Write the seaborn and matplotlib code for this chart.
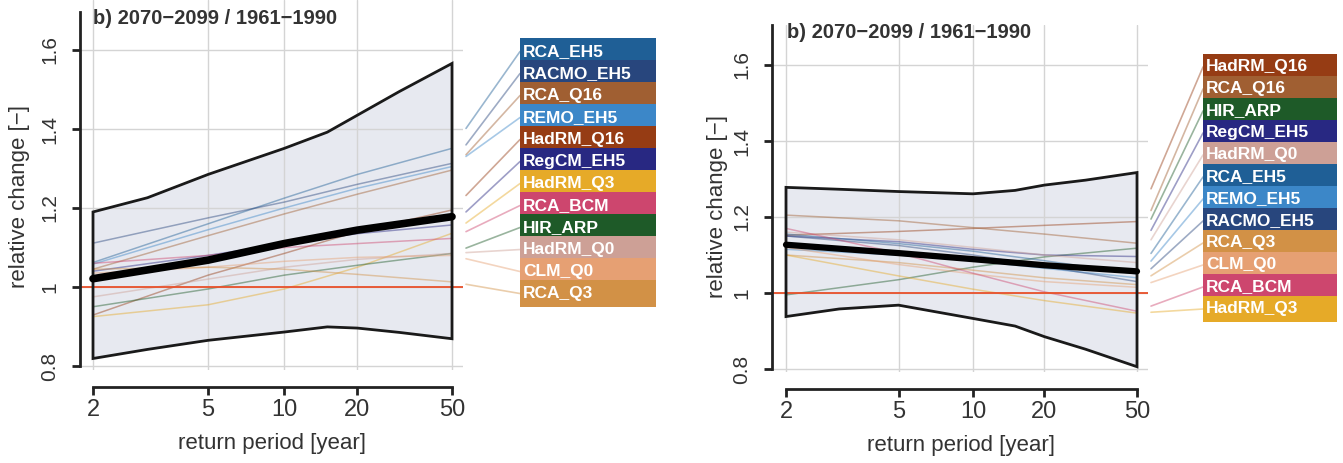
import numpy as np
import pandas as pd
import matplotlib
matplotlib.use("Agg")
import matplotlib.pyplot as plt
import seaborn as sns
from matplotlib.lines import Line2D
from matplotlib.patches import Rectangle

# return periods
T_lines = [2, 5, 10, 20, 50]
T_env = [2, 3, 5, 10, 15, 20, 30, 50]

x_ticks = [2, 5, 10, 20, 50]
y_ticks = [0.8, 1.0, 1.2, 1.4, 1.6]
y_ticklabels = ["0.8", "1", "1.2", "1.4", "1.6"]

model_colors = {
    "RCA_EH5": "#1f5f96",
    "RACMO_EH5": "#28467d",
    "RCA_Q16": "#a05f32",
    "REMO_EH5": "#3c87c8",
    "HadRM_Q16": "#963c14",
    "RegCM_EH5": "#282882",
    "HadRM_Q3": "#e6aa28",
    "RCA_BCM": "#cd466e",
    "HIR_ARP": "#1e5a28",
    "HadRM_Q0": "#cda096",
    "CLM_Q0": "#e6a073",
    "RCA_Q3": "#d29146",
}

# linker Teil
left_title = "b) 2070\u22122099 / 1961\u22121990"
left_upper = [1.190, 1.226, 1.285, 1.351, 1.392, 1.435, 1.495, 1.566]
left_lower = [0.819, 0.842, 0.865, 0.886, 0.899, 0.896, 0.885, 0.869]
left_mean = [1.021, 1.068, 1.110, 1.144, 1.178]
left_values = {
    "RCA_EH5": [1.062, 1.160, 1.225, 1.285, 1.351],
    "RACMO_EH5": [1.111, 1.175, 1.215, 1.260, 1.313],
    "RCA_Q16": [1.045, 1.130, 1.185, 1.235, 1.296],
    "REMO_EH5": [1.058, 1.145, 1.200, 1.250, 1.305],
    "HadRM_Q16": [0.929, 1.030, 1.085, 1.140, 1.195],
    "RegCM_EH5": [1.040, 1.080, 1.110, 1.135, 1.157],
    "HadRM_Q3": [0.925, 0.955, 0.995, 1.050, 1.136],
    "RCA_BCM": [1.060, 1.080, 1.100, 1.110, 1.123],
    "HIR_ARP": [0.950, 0.995, 1.030, 1.055, 1.085],
    "HadRM_Q0": [0.975, 1.020, 1.050, 1.070, 1.085],
    "CLM_Q0": [1.035, 1.050, 1.065, 1.075, 1.080],
    "RCA_Q3": [1.045, 1.050, 1.045, 1.032, 1.013],
}
left_order = ["RCA_EH5", "RACMO_EH5", "RCA_Q16", "REMO_EH5", "HadRM_Q16", "RegCM_EH5",
              "HadRM_Q3", "RCA_BCM", "HIR_ARP", "HadRM_Q0", "CLM_Q0", "RCA_Q3"]

# rechter Teil
right_title = "b) 2070\u22122099 / 1961\u22121990"
right_upper = [1.278, 1.273, 1.267, 1.261, 1.270, 1.284, 1.297, 1.317]
right_lower = [0.938, 0.958, 0.968, 0.933, 0.913, 0.885, 0.852, 0.806]
right_mean = [1.127, 1.105, 1.089, 1.073, 1.057]
right_values = {
    "HadRM_Q16": [1.152, 1.162, 1.170, 1.178, 1.188],
    "RCA_Q16": [1.205, 1.190, 1.172, 1.155, 1.131],
    "HIR_ARP": [0.995, 1.035, 1.068, 1.095, 1.118],
    "RegCM_EH5": [1.150, 1.135, 1.115, 1.100, 1.096],
    "HadRM_Q0": [1.160, 1.140, 1.120, 1.100, 1.080],
    "RCA_EH5": [1.155, 1.130, 1.110, 1.085, 1.050],
    "REMO_EH5": [1.115, 1.100, 1.085, 1.065, 1.040],
    "RACMO_EH5": [1.150, 1.125, 1.100, 1.070, 1.030],
    "RCA_Q3": [1.100, 1.080, 1.060, 1.040, 1.022],
    "CLM_Q0": [1.120, 1.075, 1.050, 1.030, 1.015],
    "RCA_BCM": [1.170, 1.105, 1.052, 1.003, 0.952],
    "HadRM_Q3": [1.100, 1.045, 1.010, 0.980, 0.947],
}
right_order = ["HadRM_Q16", "RCA_Q16", "HIR_ARP", "RegCM_EH5", "HadRM_Q0", "RCA_EH5",
               "REMO_EH5", "RACMO_EH5", "RCA_Q3", "CLM_Q0", "RCA_BCM", "HadRM_Q3"]

W, H = 1343, 463


# Gumbel-Skala fuer die Jaehrlichkeit
def gumbel(T):
    T = np.asarray(T, dtype=float)
    with np.errstate(all="ignore"):
        return -np.log(-np.log(1 - 1 / T))


def gumbel_inv(g):
    g = np.asarray(g, dtype=float)
    with np.errstate(all="ignore"):
        return 1 / (1 - np.exp(-np.exp(-g)))


sns.set_style("white")
plt.rcParams["font.family"] = ["Liberation Sans", "DejaVu Sans"]
text_col = "#333333"

fig = plt.figure(figsize=(W / 100, H / 100), dpi=100)


def panel(box, glim, ylim, spine_top, upper, lower, mean, values, order, title, title_xy,
          xlabel_xy, ylabel_xy, lab_x0, lab_w, lab_top, lab_h, lab_step, mean_lw):
    x0, y0, x1, y1 = box  # pixel coords, y from top
    ax = fig.add_axes([x0 / W, 1 - y1 / H, (x1 - x0) / W, (y1 - y0) / H])
    ax.set_xscale("function", functions=(gumbel, gumbel_inv))
    ax.set_xlim(float(gumbel_inv(glim[0])), float(gumbel_inv(glim[1])))
    ax.set_ylim(*ylim)
    ax.set_facecolor("none")

    # Band
    ax.fill_between(T_env, lower, upper, color="#e7e9f0", lw=0, zorder=1)
    ax.fill(np.r_[T_env, T_env[::-1]], np.r_[upper, lower[::-1]], facecolor="none",
            edgecolor="#1a1a1a", lw=2, zorder=3)

    # Modelle
    df = pd.DataFrame([(m, t, v) for m in order for t, v in zip(T_lines, values[m])],
                      columns=["model", "T", "value"])
    sns.lineplot(data=df, x="T", y="value", hue="model", palette=model_colors,
                 legend=False, lw=1.1, alpha=0.45, ax=ax, zorder=2, estimator=None)
    sns.lineplot(x=T_lines, y=mean, color="black", lw=mean_lw, ax=ax, zorder=4,
                 estimator=None)
    ax.axhline(1.0, color="#e8502a", lw=1.3, zorder=2.5)

    ax.set_xticks(x_ticks)
    ax.set_xticklabels([str(t) for t in x_ticks])
    ax.set_yticks(y_ticks)
    ax.set_yticklabels(y_ticklabels, rotation=90, va="center")
    ax.minorticks_off()
    ax.grid(True, color="#d4d4d4", lw=1)
    ax.set_axisbelow("line")
    ax.set_xlabel("")
    ax.set_ylabel("")

    for s in ["top", "right"]:
        ax.spines[s].set_visible(False)
    ax.spines["left"].set_bounds(0.8, spine_top)
    ax.spines["bottom"].set_bounds(2, 50)
    ax.spines["bottom"].set_position(("outward", 12))
    for s in ["left", "bottom"]:
        ax.spines[s].set_color("#222222")
        ax.spines[s].set_linewidth(2)
    ax.tick_params(axis="x", bottom=True, direction="out", length=6, width=2,
                   color="#222222", labelsize=17, pad=3, labelcolor=text_col)
    ax.tick_params(axis="y", left=True, direction="out", length=6, width=2,
                   color="#222222", labelsize=15, pad=9, labelcolor=text_col)

    fig.text(title_xy[0] / W, 1 - title_xy[1] / H, title, fontsize=14.5, fontweight="bold",
             color=text_col, ha="left", va="center")
    fig.text(xlabel_xy[0] / W, 1 - xlabel_xy[1] / H, "return period [year]", fontsize=16,
             color=text_col, ha="center", va="center")
    fig.text(ylabel_xy[0] / W, 1 - ylabel_xy[1] / H, "relative change [\u2212]",
             fontsize=16, color=text_col, ha="center", va="center", rotation=90)

    # Beschriftung mit Verbindungslinien
    for i, name in enumerate(order):
        ex, ey = ax.transData.transform((T_lines[-1], values[name][-1]))
        cy = lab_top + i * lab_step + lab_h / 2
        bx, by = lab_x0, H - cy
        sx = ex + 14
        sy = ey + (by - ey) * 14 / (bx - ex)
        fig.add_artist(Line2D([sx / W, bx / W], [sy / H, by / H], transform=fig.transFigure,
                              color=model_colors[name], alpha=0.45, lw=1.2))
        fig.add_artist(Rectangle((bx / W, (by - lab_h / 2) / H), lab_w / W, lab_h / H,
                                 transform=fig.transFigure, facecolor=model_colors[name],
                                 edgecolor="none"))
        fig.text((bx + 3) / W, by / H, name, fontsize=12.5, fontweight="bold",
                 color="white", ha="left", va="center")
    return ax


panel((80, 0, 463, 370), (0.2385, 4.0102), (0.6 + 0.2 - 4 / 395, 1.6 + 50 / 395), 1.696,
      left_upper, left_lower, left_mean, left_values, left_order, left_title,
      (93, 18), (272, 443), (20, 197), 520, 136, 38, 27.06, 22, 5.5)

panel((772, 25, 1148, 372), (0.2255, 4.0127), (1.0 - 79 / 380, 1.0 + 268 / 380), 1.705,
      right_upper, right_lower, right_mean, right_values, right_order, right_title,
      (787, 33), (961, 445), (717, 207), 1203, 134, 54, 26.0, 22, 4.5)

plt.savefig("out.png", dpi=100)
